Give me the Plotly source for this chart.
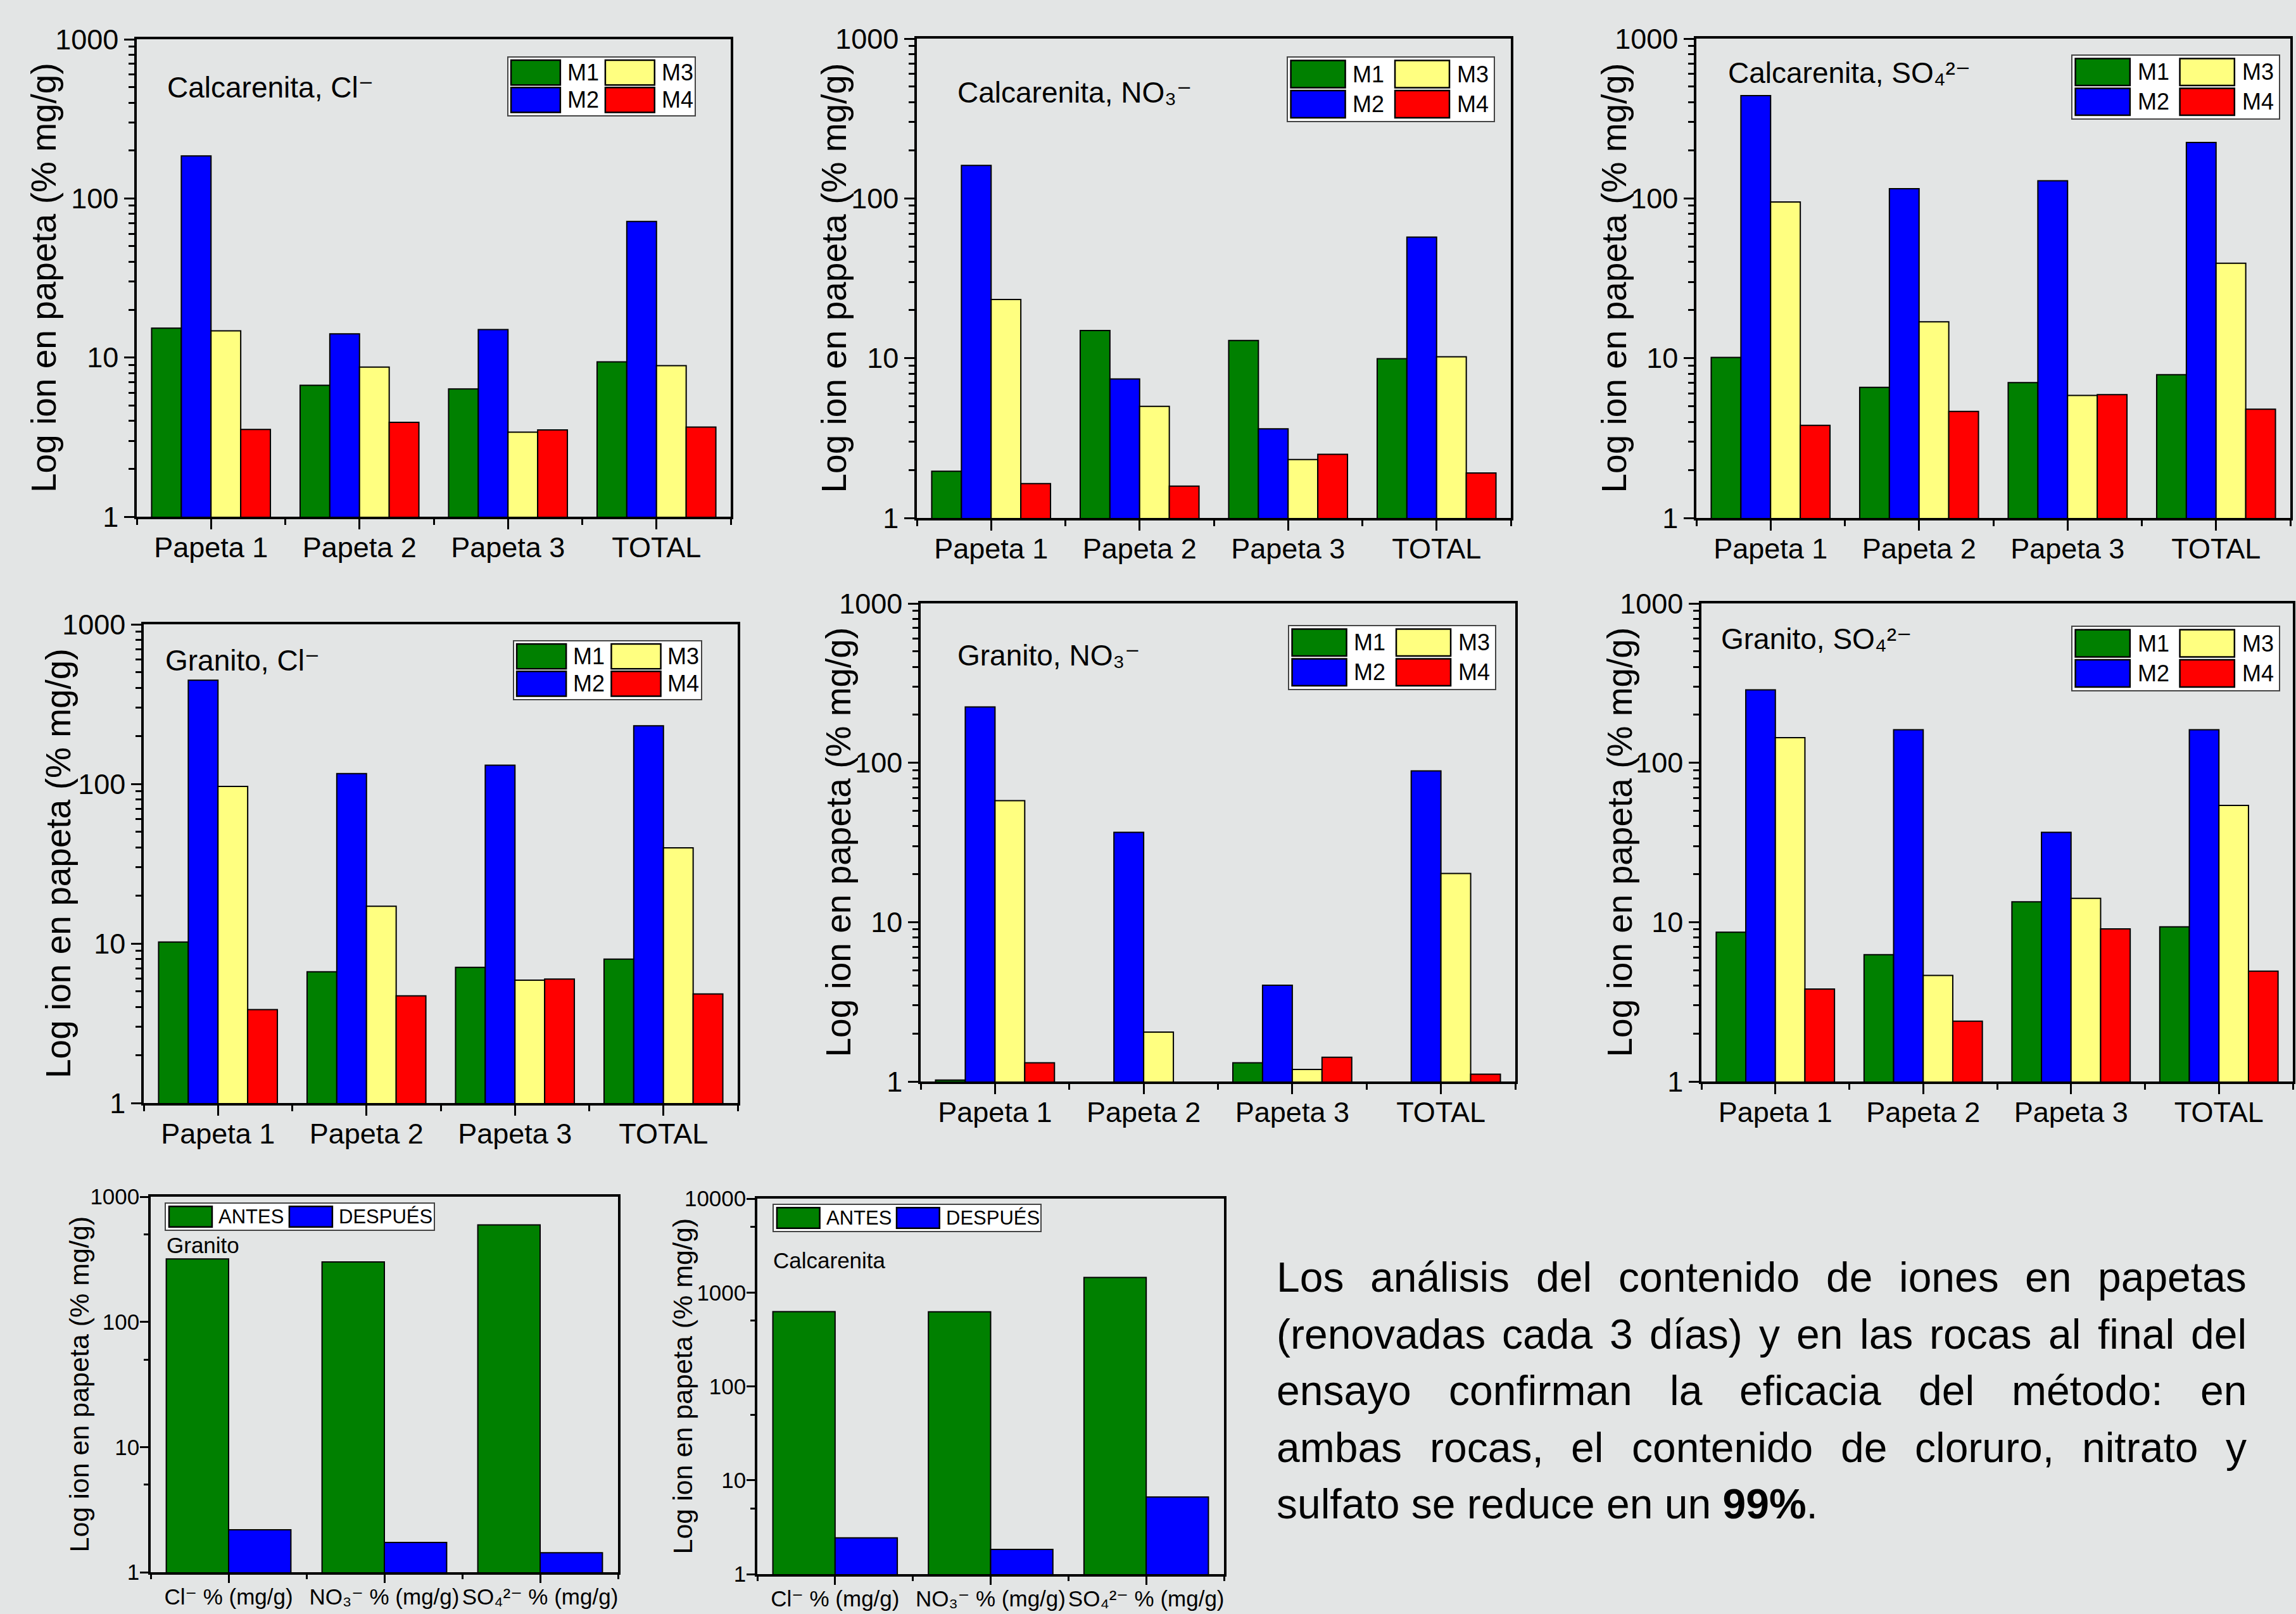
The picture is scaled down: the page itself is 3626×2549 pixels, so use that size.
import plotly.graph_objects as go

W, H = 3626, 2549

# ---------------------------------------------------------------- data
papeta_categories = ["Papeta 1", "Papeta 2", "Papeta 3", "TOTAL"]
muestra_names = ["M1", "M2", "M3", "M4"]
muestra_colors = ["#008000", "#0000ff", "#ffff80", "#ff0000"]

calc_cl_M1 = [15.3, 6.7, 6.35, 9.4]
calc_cl_M2 = [185, 14.1, 15.0, 71.6]
calc_cl_M3 = [14.7, 8.7, 3.4, 8.9]
calc_cl_M4 = [3.53, 3.92, 3.51, 3.66]

calc_no3_M1 = [1.96, 14.9, 12.9, 9.93]
calc_no3_M2 = [161, 7.41, 3.61, 57.2]
calc_no3_M3 = [23.3, 5.0, 2.32, 10.2]
calc_no3_M4 = [1.64, 1.58, 2.50, 1.91]

calc_so4_M1 = [10.1, 6.56, 7.03, 7.88]
calc_so4_M2 = [440, 115, 129, 224]
calc_so4_M3 = [95, 16.9, 5.85, 39.3]
calc_so4_M4 = [3.80, 4.64, 5.91, 4.79]

gran_cl_M1 = [10.2, 6.64, 7.08, 7.98]
gran_cl_M2 = [446, 116, 131, 231]
gran_cl_M3 = [96.4, 17.1, 5.89, 39.7]
gran_cl_M4 = [3.85, 4.70, 5.98, 4.82]

gran_no3_M1 = [1.02, None, 1.31, None]
gran_no3_M2 = [224, 36.6, 4.02, 88.9]
gran_no3_M3 = [57.8, 2.04, 1.19, 20.2]
gran_no3_M4 = [1.31, None, 1.42, 1.11]

gran_so4_M1 = [8.65, 6.25, 13.4, 9.35]
gran_so4_M2 = [287, 161, 36.6, 161]
gran_so4_M3 = [143.6, 4.63, 14.1, 54.0]
gran_so4_M4 = [3.8, 2.39, 9.06, 4.93]

ion_categories = ["Cl\u207b % (mg/g)",
                  "NO\u2083\u207b % (mg/g)",
                  "SO\u2084\u00b2\u207b % (mg/g)"]
periodo_names = ["ANTES", "DESPUÉS"]
periodo_colors = ["#008000", "#0000ff"]

gran_antes = [318, 301, 595]
gran_despues = [2.18, 1.73, 1.43]
calc_antes = [625, 622, 1445]
calc_despues = [2.43, 1.83, 6.63]

y_title = "Log ion en papeta (% mg/g)"

paragraph_lines = [
    "Los análisis del contenido de iones en papetas",
    "(renovadas cada 3 días) y en las rocas al final del",
    "ensayo confirman la eficacia del método: en",
    "ambas rocas, el contenido de cloruro, nitrato y",
]
paragraph_last = "sulfato se reduce en un <b>99%</b>."

# ---------------------------------------------------------------- layout helpers
FONT = "Liberation Sans, Arial, DejaVu Sans, sans-serif"


def fx(px):
    return px / W


def fy(py):
    return 1 - py / H


panels = [
    dict(cats=papeta_categories, names=muestra_names, colors=muestra_colors,
         series=[calc_cl_M1, calc_cl_M2, calc_cl_M3, calc_cl_M4],
         box=(216, 62, 1154, 816), decades=3, big=True,
         title="Calcarenita, Cl\u207b", title_xy=(262, 138),
         ytitle_x=69, legend_box=(802, 90, 1098, 183)),
    dict(cats=papeta_categories, names=muestra_names, colors=muestra_colors,
         series=[calc_no3_M1, calc_no3_M2, calc_no3_M3, calc_no3_M4],
         box=(1448, 61, 2386, 818), decades=3, big=True,
         title="Calcarenita, NO\u2083\u207b", title_xy=(1510, 146),
         ytitle_x=1317, legend_box=(2033, 90, 2360, 192)),
    dict(cats=papeta_categories, names=muestra_names, colors=muestra_colors,
         series=[calc_so4_M1, calc_so4_M2, calc_so4_M3, calc_so4_M4],
         box=(2679, 61, 3617, 818), decades=3, big=True,
         title="Calcarenita, SO\u2084\u00b2\u207b", title_xy=(2727, 115),
         ytitle_x=2549, legend_box=(3272, 87, 3600, 188)),
    dict(cats=papeta_categories, names=muestra_names, colors=muestra_colors,
         series=[gran_cl_M1, gran_cl_M2, gran_cl_M3, gran_cl_M4],
         box=(227, 986, 1165, 1742), decades=3, big=True,
         title="Granito, Cl\u207b", title_xy=(259, 1043),
         ytitle_x=92, legend_box=(811, 1012, 1108, 1105)),
    dict(cats=papeta_categories, names=muestra_names, colors=muestra_colors,
         series=[gran_no3_M1, gran_no3_M2, gran_no3_M3, gran_no3_M4],
         box=(1454, 953, 2393, 1708), decades=3, big=True,
         title="Granito, NO\u2083\u207b", title_xy=(1510, 1035),
         ytitle_x=1323, legend_box=(2035, 988, 2362, 1089)),
    dict(cats=papeta_categories, names=muestra_names, colors=muestra_colors,
         series=[gran_so4_M1, gran_so4_M2, gran_so4_M3, gran_so4_M4],
         box=(2687, 953, 3621, 1708), decades=3, big=True,
         title="Granito, SO\u2084\u00b2\u207b", title_xy=(2716, 1009),
         ytitle_x=2557, legend_box=(3272, 989, 3600, 1091)),
    dict(cats=ion_categories, names=periodo_names, colors=periodo_colors,
         series=[gran_antes, gran_despues],
         box=(238, 1890, 976, 2483), decades=3, big=False,
         title="Granito", title_xy=(261, 1966),
         ytitle_x=124, legend_box=(261, 1900, 686, 1943)),
    dict(cats=ion_categories, names=periodo_names, colors=periodo_colors,
         series=[calc_antes, calc_despues],
         box=(1196, 1893, 1933, 2486), decades=4, big=False,
         title="Calcarenita", title_xy=(1219, 1990),
         ytitle_x=1077, legend_box=(1221, 1902, 1644, 1945)),
]

NP = len(panels)
fig = go.Figure()
layout = {}
shapes = []
annotations = []


def axname(kind, i):
    return kind if i == 1 else f"{kind}{i}"


for i, p in enumerate(panels, start=1):
    x0, y0, x1, y1 = p["box"]
    n = len(p["cats"])
    big = p["big"]
    tick_size = 45 if big else 35
    major_len = 16 if big else 13
    minor_len = 9 if big else 7
    dec = p["decades"]
    xid, yid = axname("x", i), axname("y", i)

    centers = list(range(n))
    bounds = [k - 0.5 for k in range(n + 1)]
    ymajor = [10 ** k for k in range(dec + 1)]
    ymajor_text = [str(v) for v in ymajor]
    if big:
        yminor = [m * 10 ** k for k in range(dec) for m in range(2, 10)]
    else:
        yminor = [5 * 10 ** k for k in range(dec)]

    common_x = dict(range=[-0.5, n - 0.5], showgrid=False, zeroline=False,
                    tickmode="array", tickvals=centers, tickwidth=3,
                    tickcolor="black", ticklen=major_len, fixedrange=True,
                    automargin=False)
    common_y = dict(type="log", range=[0, dec], showgrid=False, zeroline=False,
                    tickmode="array", tickvals=ymajor, tickwidth=3,
                    tickcolor="black", ticklen=major_len, fixedrange=True,
                    automargin=False)

    layout[axname("xaxis", i)] = dict(
        common_x, domain=[fx(x0), fx(x1)], anchor=yid, ticks="outside",
        ticktext=p["cats"], showline=True, linewidth=3.5, linecolor="black",
        mirror=True, ticklabelstandoff=-10 if big else -8,
        tickfont=dict(size=tick_size, color="black", family=FONT),
        minor=dict(tickmode="array", tickvals=bounds, ticks="outside",
                   ticklen=minor_len, tickwidth=3, tickcolor="black",
                   showgrid=False))
    layout[axname("yaxis", i)] = dict(
        common_y, domain=[fy(y1), fy(y0)], anchor=xid, ticks="outside",
        ticktext=ymajor_text, showline=True, linewidth=3.5, linecolor="black",
        mirror=True, ticklabelstandoff=0 if big else -6,
        tickfont=dict(size=tick_size, color="black", family=FONT),
        minor=dict(tickmode="array", tickvals=yminor, ticks="outside",
                   ticklen=minor_len, tickwidth=3, tickcolor="black",
                   showgrid=False))
    # mirrored axes carrying the inward ticks on top and right
    layout[axname("xaxis", i + NP)] = dict(
        common_x, overlaying=xid, side="top", anchor=yid, ticks="inside",
        showticklabels=False, showline=False,
        minor=dict(tickmode="array", tickvals=bounds, ticks="inside",
                   ticklen=minor_len, tickwidth=3, tickcolor="black",
                   showgrid=False))
    layout[axname("yaxis", i + NP)] = dict(
        common_y, overlaying=yid, side="right", anchor=xid, ticks="inside",
        showticklabels=False, showline=False,
        minor=dict(tickmode="array", tickvals=yminor, ticks="inside",
                   ticklen=minor_len, tickwidth=3, tickcolor="black",
                   showgrid=False))

    # bars
    for name, color, vals in zip(p["names"], p["colors"], p["series"]):
        fig.add_trace(go.Bar(
            x=centers, y=vals, name=name, showlegend=False,
            marker=dict(color=color, line=dict(color="black", width=2)),
            xaxis=xid, yaxis=yid))

    # y-axis title
    annotations.append(dict(
        text=y_title, x=fx(p["ytitle_x"]), y=fy((y0 + y1) / 2),
        xref="paper", yref="paper", xanchor="center", yanchor="middle",
        textangle=-90, showarrow=False,
        font=dict(size=55 if big else 43, color="black", family=FONT)))
    # panel label
    tx, ty = p["title_xy"]
    annotations.append(dict(
        text=p["title"], x=fx(tx), y=fy(ty), xref="paper", yref="paper",
        xanchor="left", yanchor="middle", showarrow=False,
        font=dict(size=46 if big else 35, color="black", family=FONT)))

    # legend drawn as boxes
    lx0, ly0, lx1, ly1 = p["legend_box"]
    lw, lh = lx1 - lx0, ly1 - ly0
    shapes.append(dict(type="rect", xref="paper", yref="paper",
                       x0=fx(lx0), x1=fx(lx1), y0=fy(ly1), y1=fy(ly0),
                       fillcolor="white", line=dict(color="#444444", width=2)))
    for k, (name, color) in enumerate(zip(p["names"], p["colors"])):
        if big:
            col, row = k // 2, k % 2
            sx0 = lx0 + lw * (0.017 + 0.503 * col)
            sx1 = sx0 + lw * 0.263
            sy0 = ly0 + lh * (0.055 + 0.465 * row)
            sy1 = sy0 + lh * 0.42
            tx0 = sx1 + lw * 0.03
            fsize = 36
        else:
            sx0 = lx0 + lw * (0.014 + 0.447 * k)
            sx1 = sx0 + lw * 0.16
            sy0 = ly0 + lh * 0.12
            sy1 = ly0 + lh * 0.88
            tx0 = sx1 + lw * 0.02
            fsize = 31
        shapes.append(dict(type="rect", xref="paper", yref="paper",
                           x0=fx(sx0), x1=fx(sx1), y0=fy(sy1), y1=fy(sy0),
                           fillcolor=color, line=dict(color="black", width=2.5)))
        annotations.append(dict(
            text=name, x=fx(tx0), y=fy((sy0 + sy1) / 2), xref="paper",
            yref="paper", xanchor="left", yanchor="middle", showarrow=False,
            font=dict(size=fsize, color="black", family=FONT)))

# ---------------------------------------------------------------- paragraph (justified)
ARIAL_W = {" ": .278, "(": .333, ")": .333, ",": .278, ".": .278, ":": .278,
           "3": .556, "9": .556, "%": .889, "a": .556, "b": .556, "c": .5,
           "d": .556, "e": .556, "f": .278, "g": .556, "h": .556, "i": .222,
           "j": .222, "k": .5, "l": .222, "m": .833, "n": .556, "o": .556,
           "p": .556, "q": .556, "r": .333, "s": .5, "t": .278, "u": .556,
           "v": .5, "w": .722, "x": .5, "y": .5, "z": .5, "L": .556,
           "á": .556, "é": .556, "í": .278}
PSIZE = 66
PLEFT, PRIGHT = 2016, 3548
PTOP, PSTEP = 2017, 89.6


def word_width(w):
    return sum(ARIAL_W.get(ch, 0.556) for ch in w) * PSIZE


pfont = dict(size=PSIZE, color="black", family=FONT)
for li, line in enumerate(paragraph_lines):
    words = line.split(" ")
    widths = [word_width(w) for w in words]
    gap = (PRIGHT - PLEFT - sum(widths)) / (len(words) - 1)
    xpos = PLEFT
    yc = PTOP + PSTEP * li
    for wi, (w, ww) in enumerate(zip(words, widths)):
        last = wi == len(words) - 1
        annotations.append(dict(
            text=w, x=fx(PRIGHT if last else xpos), y=fy(yc),
            xref="paper", yref="paper", xanchor="right" if last else "left",
            yanchor="middle", showarrow=False, font=pfont, borderpad=0,
            borderwidth=0))
        xpos += ww + gap
annotations.append(dict(
    text=paragraph_last, x=fx(PLEFT), y=fy(PTOP + PSTEP * len(paragraph_lines)),
    xref="paper", yref="paper", xanchor="left", yanchor="middle",
    showarrow=False, font=pfont, borderpad=0, borderwidth=0))

fig.update_layout(
    width=W, height=H, autosize=False,
    margin=dict(l=0, r=0, t=0, b=0, pad=0, autoexpand=False),
    paper_bgcolor="#e3e5e5", plot_bgcolor="rgba(0,0,0,0)",
    barmode="group", bargap=0.2, bargroupgap=0,
    font=dict(family=FONT, color="black"),
    shapes=shapes, annotations=annotations, showlegend=False,
    **layout)

fig.write_html(
    "out.html",
    config={"displayModeBar": False, "staticPlot": False},
    post_script="document.body.style.margin='0';"
                "document.documentElement.style.overflow='hidden';")
